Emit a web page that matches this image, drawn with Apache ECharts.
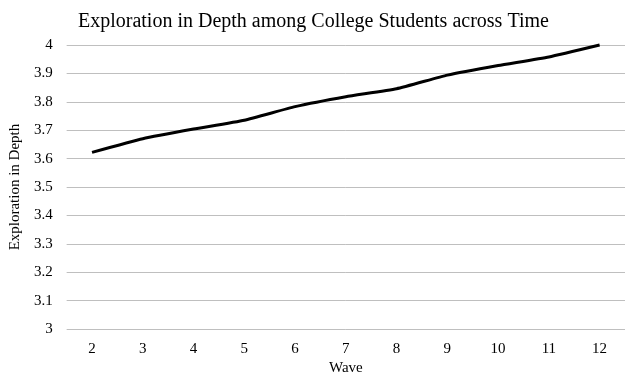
<!DOCTYPE html>
<html>
<head>
<meta charset="utf-8">
<script src="https://cdn.jsdelivr.net/npm/echarts@6/dist/echarts.min.js"></script>
<style>
  html, body { margin: 0; padding: 0; background: #fff; }
  #chart { width: 625px; height: 381px; }
</style>
</head>
<body>
<div id="chart"></div>
<script>
// Wave numbers along the horizontal axis
const waves = ['2', '3', '4', '5', '6', '7', '8', '9', '10', '11', '12'];
// Mean exploration in depth at each wave
const explorationDepth = [3.622, 3.670, 3.704, 3.735, 3.783, 3.818, 3.846, 3.894, 3.928, 3.958, 4.00];

const serif = '"Liberation Serif", "Times New Roman", serif';

const chart = echarts.init(document.getElementById('chart'), null, { renderer: 'canvas' });
chart.setOption({
  animation: false,
  backgroundColor: '#ffffff',
  title: {
    text: 'Exploration in Depth among College Students across Time',
    left: 73,
    top: 7,
    textStyle: { fontFamily: serif, fontSize: 20, fontWeight: 'normal', color: '#000' }
  },
  grid: { left: 58, right: -5, top: 45, bottom: 46, containLabel: false },
  xAxis: {
    type: 'category',
    data: waves,
    boundaryGap: true,
    name: 'Wave',
    nameLocation: 'middle',
    nameGap: 30,
    nameTextStyle: { fontFamily: serif, fontSize: 15, color: '#000' },
    axisLine: { show: false },
    axisTick: { show: false },
    axisLabel: { fontFamily: serif, fontSize: 15, color: '#000', margin: 12 }
  },
  yAxis: {
    type: 'value',
    min: 3,
    max: 4,
    interval: 0.1,
    name: 'Exploration in Depth',
    nameLocation: 'middle',
    nameGap: 35,
    nameTextStyle: { fontFamily: serif, fontSize: 15, color: '#000' },
    axisLine: { show: false },
    axisTick: { show: false },
    axisLabel: { fontFamily: serif, fontSize: 15, color: '#000', margin: 14 },
    splitLine: { lineStyle: { color: '#bfbfbf', width: 1 } }
  },
  series: [{
    type: 'line',
    data: explorationDepth,
    smooth: 0.15,
    symbol: 'none',
    clip: false,
    lineStyle: { color: '#000', width: 3 }
  }]
});
</script>
</body>
</html>
